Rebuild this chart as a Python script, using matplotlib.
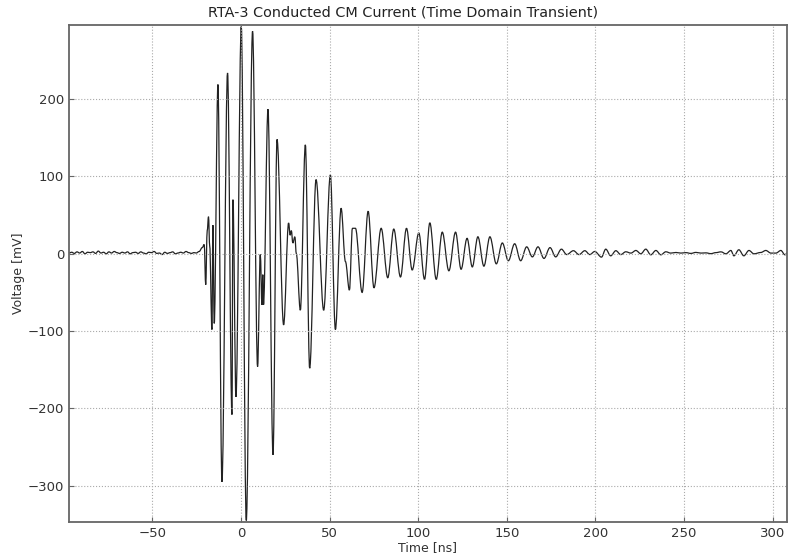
import numpy as np
import matplotlib
matplotlib.use('Agg')
import matplotlib.pyplot as plt
from matplotlib.path import Path
from matplotlib.patches import PathPatch

# quiet baseline before the burst
pre_t = [-97.0, -95.5, -94.0, -92.5, -91.0, -89.5, -88.0, -86.5, -85.0, -83.5,
         -82.0, -80.5, -79.0, -77.5, -76.0, -74.5, -73.0, -71.5, -70.0, -68.5,
         -67.0, -65.5, -64.0, -62.5, -61.0, -59.5, -58.0, -56.5, -55.0, -53.5,
         -52.0, -50.5, -49.0, -47.5, -46.0, -44.5, -43.0, -41.5, -40.0, -38.5,
         -37.0, -35.5, -34.0, -32.5, -31.0, -29.5, -28.0, -26.5]
pre_v = [1, 2, 0.5, 2.5, 1, 3, 0, 2, 1.5, 2.5,
         0.5, 3.5, 1, 2, 0, 2.5, 1, 3, 1.5, 0.5,
         2, 1, 2.5, 0, 1.5, 2, 0.5, 2.5, 1, 0,
         2, 1.5, 3, 0.5, 1, -1, 2, 0.5, 1.5, 2.5,
         0, 1, 2, 1, 3, 1.5, 0.5, 1.5]

# transient burst (peaks and troughs)
burst_t = [-25.25, -23.56, -21.86, -20.73, -19.89, -19.04, -18.31, -17.63, -16.38, -15.82,
           -15.08, -12.99, -10.73, -7.57, -5.08, -4.52, -2.82, 0.17, 2.99, 6.55,
           9.38, 10.90, 11.86, 12.32, 12.71, 15.25, 18.08, 20.34, 24.07, 26.89,
           27.74, 28.42, 29.27, 30.40, 31.24, 33.50, 36.33, 38.76, 42.37, 46.67,
           50.45, 53.28, 56.50, 58.93, 61.19, 62.88, 64.58, 68.36, 71.75, 75.03,
           79.10, 82.82, 86.21, 90.00, 93.39, 96.61, 100.34, 103.56, 106.55, 110.17,
           113.56, 117.29, 121.07, 124.18, 127.57, 130.51, 133.67, 137.06, 140.45, 144.07,
           147.46, 150.85, 154.41, 157.80, 161.19, 164.41, 167.57, 170.96, 174.35, 177.57,
           180.79, 183.79, 187.57, 190.73]
burst_v = [1, 3, 8, 12, -40, 30, 48, 10, -98, 37,
           -90, 219, -295, 234, -208, 70, -185, 294, -345, 288,
           -146, -1, -66, -27, -66, 187, -260, 148, -92, 40,
           24, 30, 14, 22, 0, -73, 141, -148, 96, -73,
           102, -98, 59, -10, -47, 33, 33, -50, 55, -44,
           33, -31, 32, -30, 33, -21, 27, -33, 40, -33,
           28, -22, 28, -20, 20, -17, 22, -16, 22, -13,
           14, -9, 13, -9, 9, -4, 9, -6, 8, -4,
           6, -1, 4, -1]

# ringing tail
tail_t = [194.0, 196.8, 199.6, 203.4, 205.8, 208.6, 211.5, 214.3, 217.1, 220.0,
          222.8, 225.6, 228.4, 231.2, 234.1, 236.9, 239.7, 242.5, 245.4, 248.2,
          251.0, 253.8, 256.7, 259.5, 262.3, 265.1, 267.9, 270.8, 273.6, 276.4,
          278.1, 280.9, 283.7, 286.6, 289.4, 293.3, 296.1, 299.0, 301.8, 304.6,
          306.9, 309.2]
tail_v = [4, -1, 3, -4.3, 6, -2.6, 4, -1, 2.6, 0.9,
          4.3, 0, 6, -1.3, 4.3, -1.3, 2.6, 0.9, 1.7, 0.9,
          1.5, 0.5, 1.8, 0.9, 1.2, 0.2, 1.5, 2.5, 0, 4.3,
          -2.6, 5.2, -2.6, 4.3, 0, 1.7, 4.3, 0.9, 0.9, 4.3,
          -1.3, 4.3]

time_ns = np.array(pre_t + burst_t + tail_t)
volt_mv = np.array(pre_v + burst_v + tail_v)

fig = plt.figure(figsize=(7.88, 5.58), dpi=100)
ax = fig.add_axes([0.0876, 0.0645, 0.911, 0.8907])

# smooth trace: cubic curves with flat tangents at each peak/trough
verts = [(time_ns[0], volt_mv[0])]
codes = [Path.MOVETO]
for t0, v0, t1, v1 in zip(time_ns[:-1], volt_mv[:-1], time_ns[1:], volt_mv[1:]):
    dt = t1 - t0
    verts += [(t0 + 0.36 * dt, v0), (t1 - 0.36 * dt, v1), (t1, v1)]
    codes += [Path.CURVE4] * 3
trace = PathPatch(Path(verts, codes), fill=False, edgecolor='#222222', linewidth=0.9)
ax.add_patch(trace)

ax.set_xlim(-97, 308)
ax.set_ylim(-347, 296)
ax.set_xticks([-50, 0, 50, 100, 150, 200, 250, 300])
ax.set_yticks([-300, -200, -100, 0, 100, 200])

ax.grid(True, linestyle=':', color='#aaaaaa', linewidth=0.8)
for s in ax.spines.values():
    s.set_color('#666666')
    s.set_linewidth(1.3)
ax.tick_params(direction='in', colors='#666666', labelcolor='#333333', labelsize=9.5)

fig.text(403 / 788, 1 - 12 / 558, 'RTA-3 Conducted CM Current (Time Domain Transient)',
         fontsize=10.4, color='#222222', ha='center', va='center')
ax.set_xlabel('Time [ns]', fontsize=9, color='#333333', labelpad=1)
ax.set_ylabel('Voltage [mV]', fontsize=9, color='#333333', labelpad=2)

plt.savefig('out.png', dpi=100)
